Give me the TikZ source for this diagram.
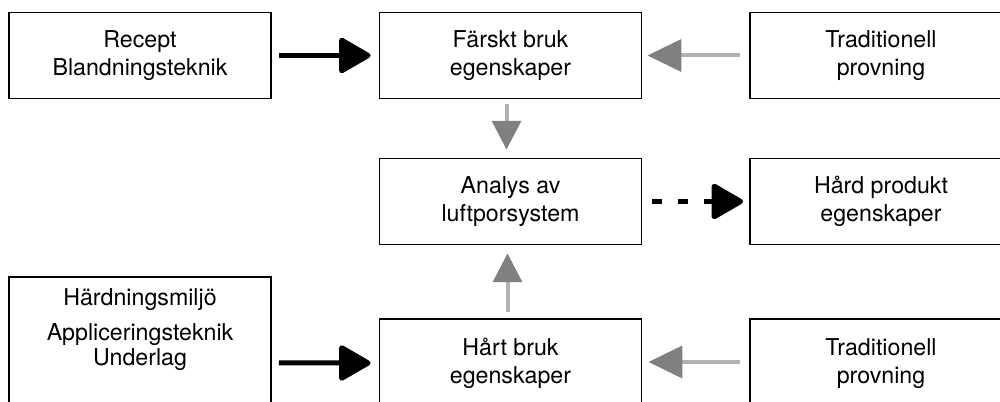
\documentclass[tikz,border=0pt]{standalone}
\usepackage{fontspec}
\setmainfont{TeX Gyre Heros}
\usetikzlibrary{arrows.meta,positioning,calc}
\tikzstyle{box} = [rectangle, draw=black, line width=1.3pt, minimum width=6.55cm, minimum height=2.15cm, align=center, font=\fontsize{16.5}{20}\selectfont]
\tikzstyle{openbox} = [box, anchor=north, minimum height=0pt, text depth=3cm]
\tikzstyle{bigarrow} = [line width=0.125cm, -{Triangle[length=0.85cm, width=0.95cm, round]}]
\tikzstyle{greyarrow} = [line width=0.1cm, draw=black!30, -{Triangle[length=0.85cm, width=0.8cm, color=black!50]}]
\tikzstyle{greyarrowv} = [line width=0.1cm, draw=black!30, -{Triangle[length=0.72cm, width=0.72cm, color=black!50]}]

\begin{document}
\begin{tikzpicture}
\useasboundingbox (0,0) rectangle (25,10.05);
\clip (0,0) rectangle (25,10.05);
\node (rec) [box] at (3.5,8.6625) {Recept\\Blandningsteknik};
\node (fresh) [box] at (12.7625,8.6625) {Färskt bruk\\egenskaper};
\node (trad1) [box] at (22.025,8.6625) {Traditionell\\provning};
\node (analys) [box] at (12.7625,5.0125) {Analys av\\luftporsystem};
\node (prod) [box] at (22.025,5.0125) {Hård produkt\\egenskaper};
\node (cure) [openbox, inner ysep=0.28cm] at (3.5,3.15) {Härdningsmiljö\\[5pt]Appliceringsteknik\\[-2pt]Underlag};
\node (hard) [openbox, inner ysep=0.47cm] at (12.7625,2.1) {Hårt bruk\\egenskaper};
\node (trad2) [openbox, inner ysep=0.5cm] at (22.025,2.1) {Traditionell\\provning};
% black arrows
\draw[bigarrow, shorten <=0.175cm, shorten >=0.2cm] (rec) -- (fresh);
\draw[bigarrow, shorten <=0.175cm, shorten >=0.2cm] ([yshift=-2.175cm]cure.north east) -- ([yshift=-1.125cm]hard.north west);
\draw[bigarrow, dash pattern=on 0.25cm off 0.4cm, shorten <=0.25cm, shorten >=0.15cm] (analys) -- (prod);
% grey arrows
\draw[greyarrow, shorten <=0.225cm, shorten >=0.125cm] (trad1) -- (fresh);
\draw[greyarrow, shorten <=0.225cm, shorten >=0.15cm] ([yshift=-1.1cm]trad2.north west) -- ([yshift=-1.1cm]hard.north east);
\draw[greyarrowv, shorten <=0.125cm, shorten >=0.2cm] ([xshift=-0.1cm]fresh.south) -- ([xshift=-0.1cm]analys.north);
\draw[greyarrowv, shorten <=0.15cm, shorten >=0.2cm] ([xshift=-0.075cm]hard.north) -- ([xshift=-0.075cm]analys.south);
\end{tikzpicture}
\end{document}
